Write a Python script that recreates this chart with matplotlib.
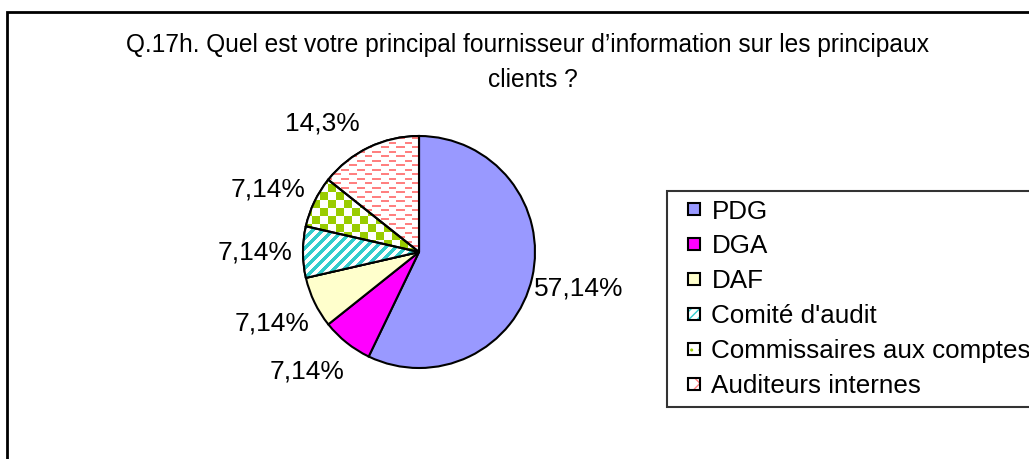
import numpy as np
import matplotlib
matplotlib.use("Agg")
import matplotlib.pyplot as plt
from matplotlib.patches import Patch, Rectangle, Wedge
from matplotlib.legend_handler import HandlerBase
from matplotlib import font_manager

categories = ["PDG", "DGA", "DAF", "Comité d'audit", "Commissaires aux comptes", "Auditeurs internes"]
values = [57.14, 7.14, 7.14, 7.14, 7.14, 14.3]
value_labels = ["57,14%", "7,14%", "7,14%", "7,14%", "7,14%", "14,3%"]
title_line1 = "Q.17h. Quel est votre principal fournisseur d\u2019information sur les principaux"
title_line2 = "clients ?"

W, H = 1029, 459
fig = plt.figure(figsize=(W / 100, H / 100), dpi=100)
ax = fig.add_axes([0, 0, 1, 1])

names = {f.name for f in font_manager.fontManager.ttflist}
base = "Liberation Sans" if "Liberation Sans" in names else "DejaVu Sans"
plt.rcParams['font.family'] = [base, 'DejaVu Sans']

cx, cy_pix, R = 419, 252, 116
cy = H - cy_pix

fill_colors = ["#9999FF", "#FF00FF", "#FFFFCC", "white", "white", "white"]
pattern_colors = {3: "#33CCCC", 4: "#99CC00", 5: "#FF8080"}
wedges, texts = ax.pie(values, labels=value_labels, colors=fill_colors, startangle=90,
                       counterclock=False, center=(cx, cy), radius=R, labeldistance=1.41,
                       wedgeprops=dict(edgecolor="black", linewidth=1.5),
                       textprops=dict(fontsize=19, color="black"))
for t in texts:
    t.set_ha("center")
    t.set_va("center")
# Excel shifted some labels to avoid crowding
texts[5].set_position((cx - 97, H - 123))
texts[4].set_position((cx - 151, H - 190))
texts[1].set_position((cx - 112, H - 372))

# textures (pixel coordinates)
x0, x1 = cx - R - 5, cx + R + 5
y0p, y1p = cy_pix - R - 5, cy_pix + R + 5
xs = np.arange(x0, x1)
ys = np.arange(y0p, y1p)
X, Y = np.meshgrid(xs, ys)

def texture(mask, color):
    img = np.ones(mask.shape + (3,))
    img[mask] = np.array(matplotlib.colors.to_rgb(color))
    return img

stripe = ((X + Y) % 10) < 5
checker = ((X // 8 + Y // 8) % 2) == 0
wave_center = 2.0 * np.sign(np.sin(2 * np.pi * (X + 4) / 16.0))
wave = ((Y - wave_center) % 9) < 2

masks = {3: stripe, 4: checker, 5: wave}
for i, m in masks.items():
    im = ax.imshow(texture(m, pattern_colors[i]), extent=(x0, x1, H - y1p, H - y0p), origin="upper",
                   interpolation="nearest", zorder=wedges[i].get_zorder() + 0.1)
    im.set_clip_path(wedges[i])
    w = wedges[i]
    ax.add_patch(Wedge(w.center, w.r, w.theta1, w.theta2, facecolor="none",
                       edgecolor="black", linewidth=1.5, zorder=w.get_zorder() + 0.2))

ax.set_xlim(0, W)
ax.set_ylim(0, H)
ax.set_aspect("auto")
ax.axis("off")

# title
t1 = fig.text(527 / W, 1 - 45 / H, title_line1, ha="center", va="center", fontsize=17)
fig.canvas.draw()
wpx = t1.get_window_extent().width
fs_title = 17 * 807 / wpx
t1.set_fontsize(fs_title)
fig.text(533 / W, 1 - 80 / H, title_line2, ha="center", va="center", fontsize=fs_title)

# legend with small square keys on the right of the handle box
class SquareHandler(HandlerBase):
    def create_artists(self, legend, orig_handle, xdescent, ydescent, width, height, fontsize, trans):
        s = 12 * 72 / 100.0
        x = -xdescent + width - s
        y = -ydescent + (height - s) / 2.0
        arts = []
        fc = orig_handle.get_facecolor()
        hatch = orig_handle.get_hatch()
        arts.append(Rectangle((x, y), s, s, facecolor=fc, edgecolor="none", transform=trans))
        if hatch:
            arts.append(Rectangle((x, y), s, s, facecolor="none", edgecolor=orig_handle.get_edgecolor(),
                                  hatch=hatch, linewidth=0, transform=trans))
        arts.append(Rectangle((x, y), s, s, facecolor="none", edgecolor="black", linewidth=1.5,
                              transform=trans))
        return arts

handles = []
hatches = {3: "////", 4: "..", 5: "xx"}
for i in range(6):
    if i < 3:
        handles.append(Patch(facecolor=fill_colors[i], edgecolor="black"))
    else:
        handles.append(Patch(facecolor="white", edgecolor=pattern_colors[i], hatch=hatches[i]))

fs_leg = 18.7
leg = ax.legend(handles, categories, loc="upper left", bbox_to_anchor=(667 / W, 1 - 191 / H),
                bbox_transform=fig.transFigure, borderaxespad=0, fontsize=fs_leg,
                handlelength=0.95, handleheight=0.5, handletextpad=0.43, labelspacing=0.42,
                borderpad=0.33, fancybox=False, frameon=True,
                handler_map={Patch: SquareHandler()})
leg.get_frame().set_edgecolor("black")
leg.get_frame().set_linewidth(1.5)

# outer border
fig.add_artist(Rectangle((7 / W, -0.2), 1.5, 1.2 - 12 / H, transform=fig.transFigure,
                         facecolor="none", edgecolor="black", linewidth=2))

fig.savefig("out.png", dpi=100)
